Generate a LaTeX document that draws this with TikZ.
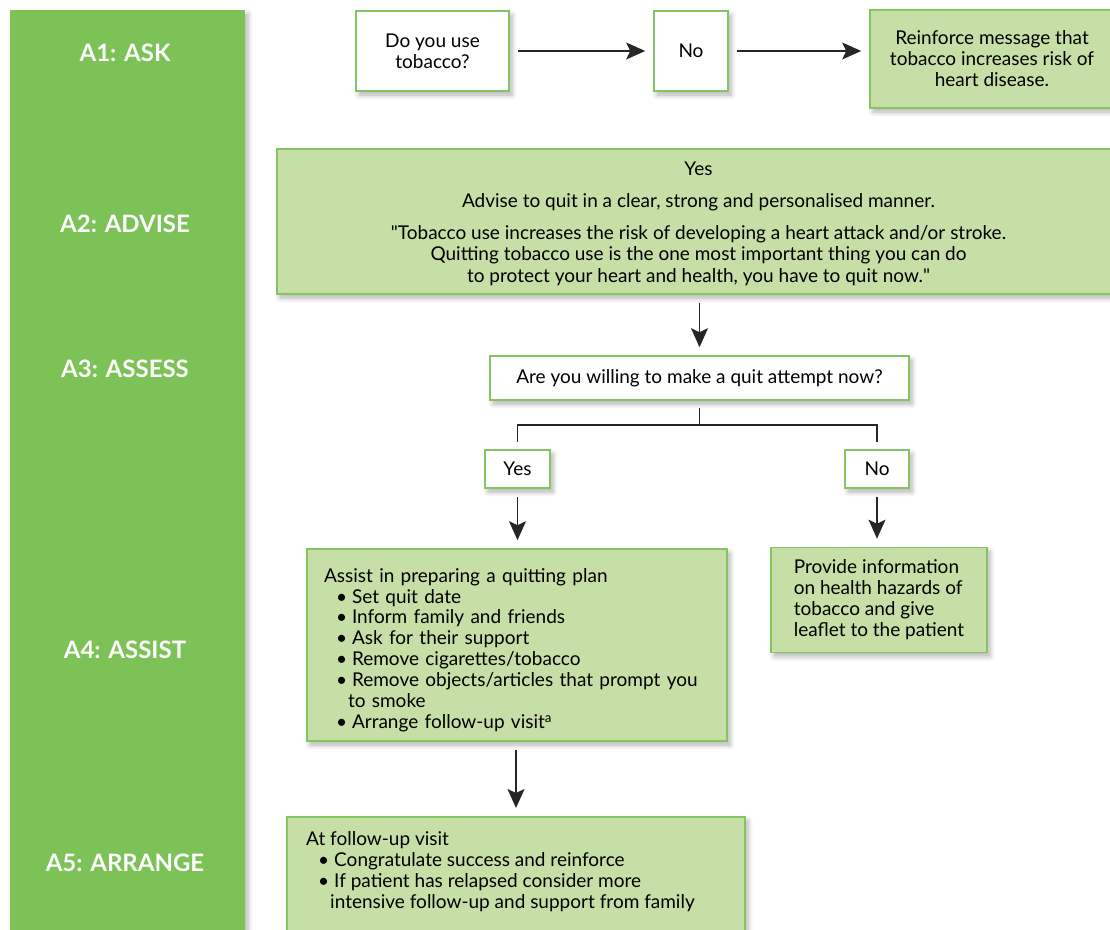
\documentclass[tikz,border=0pt]{standalone}
\usepackage{fontspec}
\setmainfont{Lato}
\usetikzlibrary{arrows.meta,shadows.blur}

\definecolor{stepgreen}{HTML}{7CC257}
\definecolor{boxgreen}{HTML}{C5DFA6}
\definecolor{edgegreen}{HTML}{84C462}

\newcommand{\dotitem}{\hspace*{12pt}•\hspace{5pt}}

\tikzset{
  shade box/.style={blur shadow={shadow xshift=3pt,shadow yshift=-4pt,shadow blur radius=5pt,
    shadow blur steps=6,shadow opacity=30}},
  whitebox/.style={draw=edgegreen,line width=1.6pt,fill=white,shade box,align=center,
    font=\fontsize{19}{21}\selectfont,inner sep=0pt},
  greenbox/.style={whitebox,fill=boxgreen},
  steplabel/.style={text=white,font=\bfseries\fontsize{24}{26}\selectfont},
  arrow/.style={draw=black!85,line width=1.4pt,-{Stealth[length=19pt,width=17pt,inset=4pt]},
    shorten <=8pt,shorten >=8pt},
  link/.style={draw=black!85,line width=1.4pt,shorten <=7pt,shorten >=7pt}
}

\begin{document}
\begin{tikzpicture}[x=1pt,y=-1pt]
\useasboundingbox (0,0) rectangle (1110,929);
\clip (0,0) rectangle (1110,929);

%Left column
\fill[stepgreen,shade box] (10,10) rectangle (245,960);
\node[steplabel] (ask) at (125,53) {A1: ASK};
\node[steplabel] (advlabel) at (125,224) {A2: ADVISE};
\node[steplabel] (asslabel) at (125,369) {A3: ASSESS};
\node[steplabel] (asslabel2) at (125,650) {A4: ASSIST};
\node[steplabel] (arrlabel) at (125,863) {A5: ARRANGE};

%Ask row
\node[whitebox,minimum width=153,minimum height=80] (tobacco) at (432.5,51) {Do you use\\tobacco?};
\node[whitebox,minimum width=74,minimum height=80] (no) at (691,51) {No};
\node[greenbox,minimum width=244,minimum height=98] (reinforce) at (992,59)
  {Reinforce message that\\tobacco increases risk of\\heart disease.};
\draw[arrow] (tobacco) -- (no);
\draw[arrow] (no.east) -- (no.east -| reinforce.west);

%Advise
\node[greenbox,minimum width=843,minimum height=145,font=\fontsize{19}{21.5}\selectfont]
  (advise) at (698.5,221.5)
  {\rule{0pt}{18pt}Yes\\[11pt]
   Advise to quit in a clear, strong and personalised manner.\\[10pt]
   \textquotedbl Tobacco use increases the risk of developing a heart attack and/or stroke.\\
   Quitting tobacco use is the one most important thing you can do\\
   to protect your heart and health, you have to quit now.\textquotedbl};

%Assess
\node[whitebox,minimum width=419,minimum height=44] (willing) at (699.5,378)
  {Are you willing to make a quit attempt now?};
\draw[arrow] (advise.south -| willing.north) -- (willing.north);
\node[whitebox,minimum width=65,minimum height=38] (yes) at (517.5,469) {Yes};
\node[whitebox,minimum width=64,minimum height=38] (notnow) at (877,469) {No};
\draw[link] (willing.south) -- ++(0,24) -| (yes.north);
\draw[link] (willing.south) -- ++(0,24) -| (notnow.north);

%Assist
\node[greenbox,minimum width=420,minimum height=192,text width=386,inner xsep=17pt,align=left,
  font=\fontsize{19}{20.9}\selectfont] (assist) at (517,645)
  {\rule{0pt}{24pt}Assist in preparing a quitting plan\\
   \dotitem Set quit date\\
   \dotitem Inform family and friends\\
   \dotitem Ask for their support\\
   \dotitem Remove cigarettes/tobacco\\
   \dotitem Remove objects/articles that prompt you\\
   \hspace*{24pt}to smoke\\
   \dotitem Arrange follow-up visit\textsuperscript{a}};
\node[greenbox,minimum width=216,minimum height=105,align=left] (provide) at (879,600)
  {Provide information\\on health hazards of\\tobacco and give\\leaflet to the patient};
\draw[arrow] (yes.south) -- (yes.south |- assist.north);
\draw[arrow] (notnow.south) -- (notnow.south |- provide.north);

%Arrange
\node[greenbox,minimum width=458,minimum height=150,anchor=north] (arrange) at (516,816) {};
\node[anchor=north west,align=left,inner sep=0pt,font=\fontsize{19}{21}\selectfont]
  (followup) at (306,831)
  {At follow-up visit\\
   \dotitem Congratulate success and reinforce\\
   \dotitem If patient has relapsed consider more\\
   \hspace*{24pt}intensive follow-up and support from family};
\draw[arrow] (assist.south -| arrange.north) -- (arrange.north);

\end{tikzpicture}
\end{document}
